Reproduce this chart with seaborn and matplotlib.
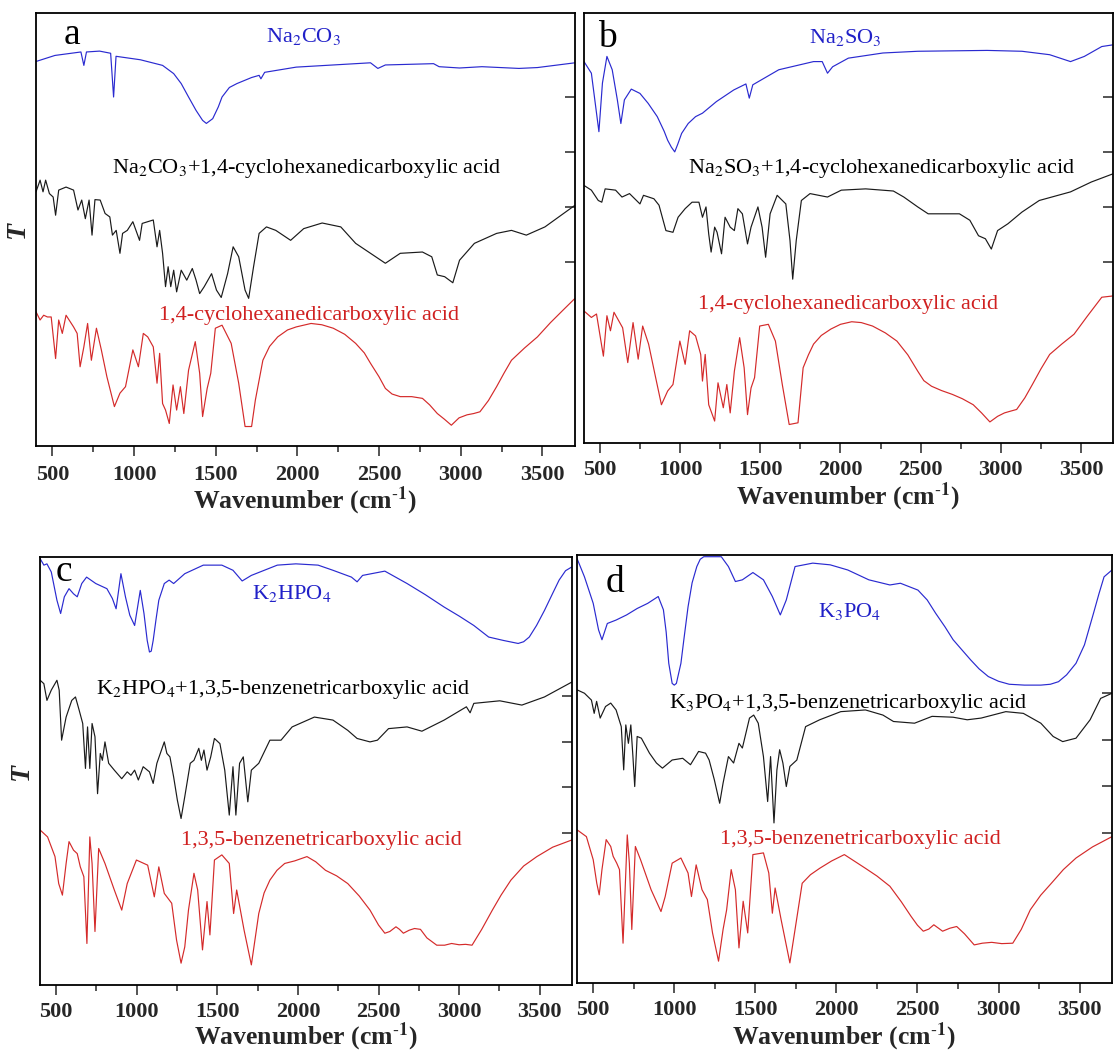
import numpy as np
import pandas as pd
import matplotlib
matplotlib.use("Agg")
import matplotlib.pyplot as plt
from matplotlib.ticker import MultipleLocator
import seaborn as sns

# ---------------- data (wavenumber cm-1, relative T in % of panel height) ----------------
A_BLUE_WN = [400, 516, 675, 693, 709, 789, 857, 875, 890, 1039, 1175, 1243, 1289, 1334, 1380, 1420, 1443, 1482, 1516, 1539,
             1584, 1630, 1720, 1766, 1777, 1800, 1993, 2448, 2493, 2539, 2834, 2868, 2993, 3130, 3357, 3470, 3700]
A_BLUE_T = [88.8, 90.2, 91.0, 87.9, 91.0, 91.2, 90.7, 80.6, 90.0, 89.2, 87.9, 86.0, 83.7, 80.6, 77.5, 75.2, 74.5, 75.6, 78.3, 80.6,
            82.8, 83.7, 85.1, 85.6, 84.8, 86.3, 87.5, 88.5, 87.2, 88.0, 88.3, 87.6, 87.3, 87.6, 87.2, 87.4, 88.5]

A_BLACK_WN = [400, 425, 443, 459, 482, 505, 520, 539, 584, 630, 657, 680, 702, 725, 743, 761, 793, 823, 852, 868, 891, 914, 930,
              959, 993, 1034, 1050, 1084, 1118, 1141, 1157, 1175, 1193, 1209, 1225, 1243, 1261, 1289, 1323, 1357, 1380, 1402,
              1430, 1475, 1505, 1534, 1573, 1607, 1641, 1680, 1702, 1732, 1766, 1811, 1868, 1959, 2039, 2152, 2266, 2357, 2448,
              2539, 2630, 2766, 2823, 2857, 2902, 2952, 2993, 3084, 3220, 3311, 3402, 3516, 3630, 3700]
A_BLACK_T = [58.7, 61.4, 58.7, 61.4, 58.3, 57.5, 53.3, 59.1, 59.8, 59.1, 54.5, 56.8, 52.5, 56.8, 48.7, 56.9, 56.8, 53.7, 52.9,
             48.7, 49.8, 44.5, 49.1, 49.8, 51.8, 47.5, 51.4, 51.8, 52.2, 46.0, 49.8, 44.5, 36.8, 41.4, 36.8, 40.6, 35.6, 40.6,
             38.3, 41.0, 38.3, 35.2, 36.8, 39.8, 36.0, 34.3, 39.8, 46.0, 43.7, 36.0, 34.1, 41.4, 49.1, 50.6, 49.8, 47.5, 50.2,
             51.5, 50.6, 46.8, 44.5, 42.2, 44.5, 44.8, 43.7, 39.5, 39.1, 37.7, 42.9, 46.8, 49.1, 49.8, 48.7, 50.6, 53.7, 55.6]

A_RED_WN = [400, 425, 447, 470, 493, 520, 539, 561, 584, 630, 652, 670, 693, 716, 739, 770, 800, 834, 880, 914, 948, 993, 1027,
            1057, 1084, 1118, 1141, 1157, 1175, 1193, 1216, 1239, 1261, 1284, 1305, 1334, 1375, 1402, 1420, 1448, 1470, 1498,
            1539, 1595, 1641, 1680, 1720, 1743, 1789, 1830, 1880, 1940, 1993, 2084, 2150, 2220, 2290, 2357, 2410, 2448, 2500,
            2539, 2580, 2630, 2700, 2766, 2810, 2857, 2900, 2943, 2990, 3039, 3080, 3118, 3170, 3220, 3265, 3311, 3390, 3470,
            3550, 3630, 3700]
A_RED_T = [31.0, 29.1, 30.2, 29.8, 29.8, 20.2, 29.1, 26.0, 30.2, 27.5, 26.0, 18.3, 22.9, 28.3, 19.8, 27.2, 22.2, 16.0, 9.1, 12.2,
           13.7, 22.2, 18.3, 26.0, 25.2, 22.9, 14.5, 21.4, 9.8, 8.3, 5.2, 14.1, 8.3, 13.7, 7.5, 17.5, 24.1, 16.8, 6.8, 13.3,
           16.8, 27.2, 27.9, 23.7, 14.5, 4.5, 4.5, 10.6, 19.8, 23.0, 25.2, 26.8, 27.5, 28.3, 28.0, 27.2, 25.8, 23.7, 21.5, 19.1,
           16.0, 13.3, 12.0, 11.4, 11.4, 11.0, 9.5, 7.5, 6.2, 4.8, 6.5, 7.2, 7.5, 7.9, 10.5, 13.7, 16.8, 19.8, 22.6, 25.2, 28.5,
           31.5, 34.1]

B_BLUE_WN = [400, 446, 493, 515, 543, 576, 608, 630, 652, 695, 749, 800, 857, 900, 922, 945, 966, 985, 1009, 1050, 1096, 1139,
             1226, 1334, 1410, 1431, 1453, 1615, 1832, 1886, 1919, 1951, 2049, 2265, 2482, 2915, 3132, 3305, 3435, 3521, 3630,
             3700]
B_BLUE_T = [88.7, 86.0, 72.4, 83.7, 89.9, 86.8, 79.8, 74.3, 79.8, 82.3, 81.3, 79.0, 75.9, 72.5, 70.4, 68.8, 67.7, 69.5, 72.0,
            74.3, 75.9, 76.7, 79.4, 82.1, 83.5, 80.2, 83.3, 86.8, 88.7, 88.7, 86.0, 87.5, 89.5, 90.7, 91.1, 91.3, 91.1, 90.3,
            88.7, 89.9, 92.2, 92.6]

B_BLACK_WN = [400, 446, 489, 511, 532, 597, 637, 684, 749, 771, 836, 868, 911, 955, 987, 1031, 1074, 1117, 1139, 1161, 1178,
              1193, 1215, 1230, 1258, 1280, 1312, 1338, 1360, 1388, 1420, 1442, 1485, 1511, 1533, 1561, 1605, 1659, 1685, 1702,
              1724, 1756, 1810, 1919, 2005, 2157, 2330, 2395, 2482, 2547, 2742, 2807, 2861, 2904, 2941, 2980, 3045, 3132, 3240,
              3435, 3565, 3700]
B_BLACK_T = [59.9, 58.8, 56.4, 56.0, 59.1, 58.8, 57.2, 58.0, 55.6, 57.6, 56.8, 55.3, 49.4, 49.0, 52.5, 54.5, 56.0, 56.0, 52.5,
             54.9, 48.6, 44.4, 50.2, 49.0, 44.0, 52.5, 50.2, 49.4, 54.5, 53.3, 46.3, 50.2, 54.9, 50.2, 43.2, 53.3, 57.6, 55.6,
             47.1, 38.1, 47.1, 56.4, 58.0, 57.2, 58.8, 59.1, 58.6, 57.2, 54.9, 53.3, 53.3, 51.8, 48.2, 47.5, 45.1, 49.4, 51.0,
             53.7, 56.4, 58.4, 60.7, 62.6]

B_RED_WN = [400, 446, 478, 521, 543, 565, 587, 641, 673, 706, 738, 766, 803, 847, 883, 922, 955, 998, 1031, 1059, 1096, 1128,
            1139, 1156, 1178, 1215, 1236, 1269, 1291, 1312, 1338, 1371, 1399, 1420, 1442, 1464, 1496, 1550, 1594, 1637, 1680,
            1735, 1767, 1800, 1832, 1880, 1940, 2000, 2070, 2130, 2200, 2280, 2352, 2420, 2482, 2520, 2568, 2630, 2698, 2760,
            2828, 2880, 2932, 2980, 3023, 3060, 3099, 3150, 3197, 3250, 3305, 3380, 3457, 3540, 3630, 3700]
B_RED_T = [30.7, 29.2, 30.0, 20.2, 29.6, 26.1, 30.4, 26.8, 18.7, 28.0, 19.5, 27.2, 23.0, 15.2, 8.9, 12.1, 13.6, 23.7, 18.3, 26.1,
           24.9, 20.6, 14.4, 20.6, 8.9, 5.1, 14.0, 8.2, 13.6, 7.0, 16.7, 24.5, 17.5, 6.6, 12.8, 15.2, 27.2, 27.6, 23.7, 13.6,
           4.3, 4.7, 17.5, 20.5, 23.0, 25.0, 26.5, 27.6, 28.2, 28.0, 27.2, 25.6, 23.7, 20.5, 16.7, 14.5, 13.2, 12.2, 11.3, 10.3,
           8.9, 7.0, 4.9, 6.2, 7.0, 7.4, 7.8, 10.5, 13.6, 17.2, 20.6, 23.0, 25.3, 29.5, 33.9, 34.2]

C_BLUE_WN = [401, 424, 443, 470, 505, 528, 551, 580, 608, 631, 659, 689, 746, 815, 849, 872, 902, 930, 957, 987, 1022, 1045,
             1065, 1079, 1090, 1102, 1120, 1137, 1171, 1201, 1229, 1298, 1413, 1528, 1597, 1654, 1711, 1872, 1987, 2125, 2217,
             2332, 2367, 2401, 2539, 2677, 2790, 2907, 3000, 3091, 3183, 3275, 3366, 3400, 3435, 3480, 3529, 3580, 3620, 3660,
             3700]
C_BLUE_T = [99.6, 98.1, 98.4, 96.5, 89.9, 86.8, 90.7, 92.6, 91.4, 90.7, 93.8, 95.3, 93.8, 92.6, 90.3, 87.9, 96.1, 90.7, 86.4,
            84.0, 92.2, 86.8, 80.5, 77.8, 78.0, 80.5, 85.5, 89.9, 93.8, 94.6, 93.8, 96.1, 98.1, 98.1, 96.9, 94.4, 95.7, 98.1,
            98.4, 98.1, 96.9, 95.3, 94.2, 95.7, 96.7, 93.8, 91.2, 88.3, 86.2, 84.0, 81.3, 80.5, 79.8, 80.2, 81.3, 84.0, 87.5,
            91.5, 94.6, 96.8, 97.7]

C_BLACK_WN = [401, 424, 443, 470, 505, 519, 534, 562, 597, 620, 643, 665, 682, 695, 709, 723, 741, 757, 774, 787, 803, 826, 861,
              907, 941, 964, 987, 1010, 1040, 1079, 1102, 1125, 1171, 1187, 1206, 1229, 1252, 1275, 1298, 1332, 1355, 1385, 1401,
              1417, 1436, 1459, 1482, 1516, 1546, 1574, 1597, 1615, 1638, 1661, 1689, 1711, 1757, 1826, 1895, 1964, 2102, 2217,
              2309, 2367, 2447, 2493, 2562, 2677, 2769, 2907, 3045, 3068, 3091, 3252, 3389, 3529, 3700]
C_BLACK_T = [71.2, 70.4, 66.5, 68.9, 71.2, 68.9, 57.2, 62.6, 66.5, 67.3, 64.2, 61.1, 50.6, 60.3, 50.6, 61.1, 58.0, 44.7, 54.1,
             52.5, 56.8, 51.8, 50.2, 48.2, 49.8, 49.0, 50.2, 47.9, 51.0, 49.8, 47.1, 51.8, 56.8, 54.1, 53.3, 48.6, 43.2, 38.9,
             44.0, 51.8, 52.5, 55.3, 52.5, 54.9, 50.2, 53.3, 57.6, 56.4, 50.2, 39.7, 51.0, 39.7, 51.8, 53.3, 42.8, 50.2, 51.8,
             57.2, 57.2, 60.3, 62.6, 61.9, 59.5, 57.6, 56.8, 57.2, 59.9, 60.3, 59.3, 61.9, 65.0, 63.6, 65.8, 66.4, 65.4, 67.3,
             70.8]

C_RED_WN = [401, 447, 493, 516, 539, 562, 580, 608, 631, 650, 672, 691, 709, 723, 741, 764, 803, 861, 907, 941, 998, 1068, 1109,
            1137, 1171, 1217, 1247, 1275, 1298, 1321, 1355, 1378, 1408, 1436, 1454, 1482, 1528, 1574, 1601, 1620, 1666, 1711,
            1757, 1790, 1826, 1870, 1918, 1980, 2056, 2110, 2171, 2240, 2309, 2380, 2447, 2500, 2539, 2570, 2608, 2630, 2654,
            2690, 2723, 2760, 2800, 2861, 2910, 2953, 3000, 3040, 3080, 3140, 3206, 3260, 3321, 3400, 3482, 3580, 3700]
C_RED_T = [36.2, 34.6, 30.0, 23.7, 21.0, 28.4, 33.5, 31.5, 30.7, 27.6, 25.3, 9.7, 34.6, 28.4, 12.5, 31.9, 28.4, 22.2, 17.5,
           23.7, 29.2, 28.0, 20.6, 27.6, 21.4, 19.1, 10.5, 5.1, 8.9, 17.5, 26.1, 22.2, 8.2, 19.5, 11.7, 29.2, 30.4, 28.4, 16.7,
           22.2, 12.8, 4.7, 16.7, 21.5, 24.5, 26.8, 28.4, 29.0, 30.0, 28.8, 26.8, 25.5, 23.7, 20.8, 17.5, 14.0, 12.1, 12.5,
           13.6, 13.0, 12.1, 12.8, 13.2, 13.0, 11.0, 9.3, 9.3, 9.7, 9.4, 9.5, 9.3, 13.0, 17.5, 21.0, 24.5, 27.8, 30.0, 32.2,
           33.9]

D_BLUE_WN = [400, 446, 500, 533, 554, 587, 641, 706, 771, 836, 901, 933, 950, 966, 987, 1000, 1013, 1041, 1060, 1085, 1110, 1139,
             1160, 1182, 1290, 1334, 1377, 1420, 1485, 1550, 1605, 1654, 1691, 1745, 1854, 1962, 2070, 2200, 2330, 2395, 2503,
             2560, 2612, 2670, 2720, 2775, 2828, 2880, 2937, 3000, 3066, 3160, 3261, 3320, 3370, 3420, 3478, 3530, 3586, 3620,
             3651, 3700]
D_BLUE_T = [99.2, 94.9, 88.7, 82.5, 80.2, 84.0, 84.8, 86.0, 87.5, 88.7, 90.3, 87.2, 82.0, 74.7, 70.0, 69.6, 70.0, 74.7, 80.5,
            87.9, 93.5, 97.3, 99.0, 99.6, 99.6, 97.3, 93.8, 94.2, 95.9, 94.2, 90.3, 86.0, 89.5, 97.3, 98.1, 97.7, 96.5, 94.2,
            93.0, 93.4, 91.8, 89.5, 86.4, 83.2, 80.2, 77.8, 75.5, 73.4, 71.6, 70.5, 69.8, 69.6, 69.6, 69.8, 70.4, 72.0, 74.7,
            79.0, 86.4, 91.0, 94.9, 96.5]

D_BLACK_WN = [400, 446, 489, 506, 521, 543, 576, 608, 641, 673, 688, 701, 717, 732, 745, 756, 771, 797, 847, 890, 927, 987, 1052,
              1100, 1150, 1193, 1215, 1247, 1280, 1301, 1334, 1366, 1399, 1420, 1442, 1464, 1490, 1518, 1550, 1576, 1594, 1615,
              1633, 1650, 1670, 1691, 1713, 1756, 1810, 1897, 2027, 2179, 2287, 2352, 2482, 2590, 2720, 2807, 2893, 3045, 3153,
              3261, 3337, 3396, 3478, 3565, 3630, 3700]
D_BLACK_T = [68.5, 67.7, 66.1, 63.0, 65.8, 61.9, 64.6, 65.4, 63.8, 59.9, 49.8, 60.3, 56.0, 60.3, 52.9, 45.9, 57.6, 57.2, 53.7,
             51.4, 50.2, 52.1, 52.5, 51.0, 54.1, 53.7, 52.1, 47.5, 42.0, 46.7, 52.9, 51.4, 56.0, 54.9, 58.4, 61.9, 62.6, 60.7,
             52.9, 42.4, 52.9, 37.4, 49.8, 54.5, 51.4, 45.9, 50.6, 52.1, 59.9, 61.5, 63.4, 63.8, 62.6, 61.1, 60.7, 62.3, 62.1,
             61.5, 61.9, 63.4, 63.0, 60.7, 57.6, 56.4, 57.2, 61.5, 66.5, 67.7]

D_RED_WN = [400, 458, 500, 522, 537, 554, 580, 608, 623, 645, 662, 684, 710, 723, 738, 760, 792, 857, 918, 944, 987, 1041, 1085,
            1106, 1135, 1171, 1204, 1236, 1273, 1301, 1323, 1351, 1377, 1399, 1425, 1453, 1485, 1550, 1583, 1605, 1622, 1659,
            1713, 1745, 1789, 1840, 1897, 1970, 2049, 2110, 2179, 2250, 2330, 2400, 2460, 2500, 2536, 2570, 2601, 2630, 2655,
            2700, 2742, 2790, 2850, 2900, 2958, 3020, 3088, 3140, 3196, 3260, 3326, 3400, 3478, 3580, 3700]
D_RED_T = [35.8, 34.2, 28.8, 23.3, 20.6, 26.5, 33.5, 31.9, 29.6, 28.0, 26.5, 9.3, 34.6, 28.0, 12.5, 31.9, 28.8, 21.8, 16.7,
           20.2, 28.0, 29.2, 25.7, 20.2, 27.6, 21.8, 19.5, 11.7, 5.1, 12.5, 17.1, 26.5, 21.8, 8.2, 19.1, 11.7, 30.0, 30.4, 25.7,
           16.3, 22.2, 14.8, 4.7, 12.5, 23.3, 25.3, 26.8, 28.5, 30.0, 28.5, 26.8, 25.0, 22.6, 19.0, 15.6, 13.5, 12.1, 12.6,
           13.6, 12.8, 12.1, 12.8, 13.2, 11.5, 8.9, 9.3, 9.5, 9.2, 9.3, 12.5, 17.1, 20.5, 23.3, 26.5, 29.2, 31.8, 34.2]

PANEL_LETTERS = ["a", "b", "c", "d"]
BLUE_LABELS = [r"Na$_2$CO$_3$", r"Na$_2$SO$_3$", r"K$_2$HPO$_4$", r"K$_3$PO$_4$"]
BLACK_LABELS = [r"Na$_2$CO$_3$+1,4-cyclohexanedicarboxylic acid",
                r"Na$_2$SO$_3$+1,4-cyclohexanedicarboxylic acid",
                r"K$_2$HPO$_4$+1,3,5-benzenetricarboxylic acid",
                r"K$_3$PO$_4$+1,3,5-benzenetricarboxylic acid"]
RED_LABELS = ["1,4-cyclohexanedicarboxylic acid", "1,4-cyclohexanedicarboxylic acid",
              "1,3,5-benzenetricarboxylic acid", "1,3,5-benzenetricarboxylic acid"]
X_TICKS = [500, 1000, 1500, 2000, 2500, 3000, 3500]

# ---------------- style ----------------
sns.set_style("white")
plt.rcParams["font.family"] = ["Liberation Serif", "DejaVu Serif"]
plt.rcParams["mathtext.fontset"] = "stix"

BLUE = "#2a2ad0"
RED = "#d42a2a"
BLACK = "#1a1a1a"

fig = plt.figure(figsize=(11.18, 10.52), dpi=100)
W, H = 1118, 1052

frames = [(36, 575, 13, 446), (584, 1113, 13, 443), (40, 572, 557, 985), (577, 1112, 555, 983)]
xlabel_y = [501, 497, 1037, 1037]
tick_pads = [7, 5, 5, 5]
axes = [fig.add_axes([l / W, 1 - b / H, (r - l) / W, (b - t) / H]) for (l, r, t, b) in frames]

panels = [
    [(A_BLUE_WN, A_BLUE_T), (A_BLACK_WN, A_BLACK_T), (A_RED_WN, A_RED_T)],
    [(B_BLUE_WN, B_BLUE_T), (B_BLACK_WN, B_BLACK_T), (B_RED_WN, B_RED_T)],
    [(C_BLUE_WN, C_BLUE_T), (C_BLACK_WN, C_BLACK_T), (C_RED_WN, C_RED_T)],
    [(D_BLUE_WN, D_BLUE_T), (D_BLACK_WN, D_BLACK_T), (D_RED_WN, D_RED_T)],
]
colors = [BLUE, BLACK, RED]

letter_pos = [(618, 95.0), (543, 94.2), (551, 96.5), (636, 93.4)]
blue_pos = [(2039, 94.5), (2027, 94.2), (1964, 91.4), (2081, 86.8)]
black_pos = [(2057, 64.1), (2254, 63.8), (1907, 69.0), (2070, 65.4)]
red_pos = [(2073, 30.2), (2044, 32.3), (2148, 33.7), (2146, 33.5)]
right_ticks = [[42.5, 55.2, 67.9, 80.6], [42.0, 54.9, 67.7, 80.5],
               [35.4, 46.3, 56.8, 67.5], [35.0, 46.0, 56.8, 67.8]]

for i, ax in enumerate(axes):
    for (wn, t), c in zip(panels[i], colors):
        df = pd.DataFrame({"wn": wn, "T": t})
        sns.lineplot(data=df, x="wn", y="T", color=c, lw=0.85, ax=ax,
                     estimator=None, sort=False, legend=False)
    ax.set_xlim(400, 3700)
    ax.set_ylim(0, 100)
    ax.set_xticks(X_TICKS)
    ax.set_xticklabels([str(v) for v in X_TICKS], fontweight="bold", fontsize=16)
    ax.xaxis.set_minor_locator(MultipleLocator(250))
    ax.tick_params(axis="x", which="major", direction="out", length=7, width=1.1, pad=tick_pads[i], bottom=True, top=False)
    ax.tick_params(axis="x", which="minor", direction="out", length=4, width=1.1, bottom=True, top=False)
    ax.yaxis.tick_right()
    ax.set_yticks(right_ticks[i])
    ax.tick_params(axis="y", which="major", direction="in", length=7, width=1.1, labelright=False, right=True, left=False)

    l, r, t, b = frames[i]
    ax.set_xlabel(r"Wavenumber (cm$^{\text{-}\mathbf{1}}$)", fontsize=18.5, fontweight="bold")
    ax.xaxis.set_label_coords(0.5, (b - xlabel_y[i]) / (b - t))
    ax.xaxis.label.set_verticalalignment("center")
    if i in (0, 2):
        ax.yaxis.set_label_position("left")
        ax.set_ylabel("T", fontsize=20, fontweight="bold", fontstyle="italic", labelpad=4)
    else:
        ax.set_ylabel("")
    for s in ax.spines.values():
        s.set_linewidth(1.3)
        s.set_color("black")

    ax.text(*letter_pos[i], PANEL_LETTERS[i], fontsize=27, ha="center", va="center", color="black")
    ax.text(*blue_pos[i], BLUE_LABELS[i], fontsize=16, ha="center", va="center", color="#2020c8")
    ax.text(*black_pos[i], BLACK_LABELS[i], fontsize=16, ha="center", va="center", color="black")
    ax.text(*red_pos[i], RED_LABELS[i], fontsize=16, ha="center", va="center", color="#d02020")

fig.savefig("out.png", dpi=100)
